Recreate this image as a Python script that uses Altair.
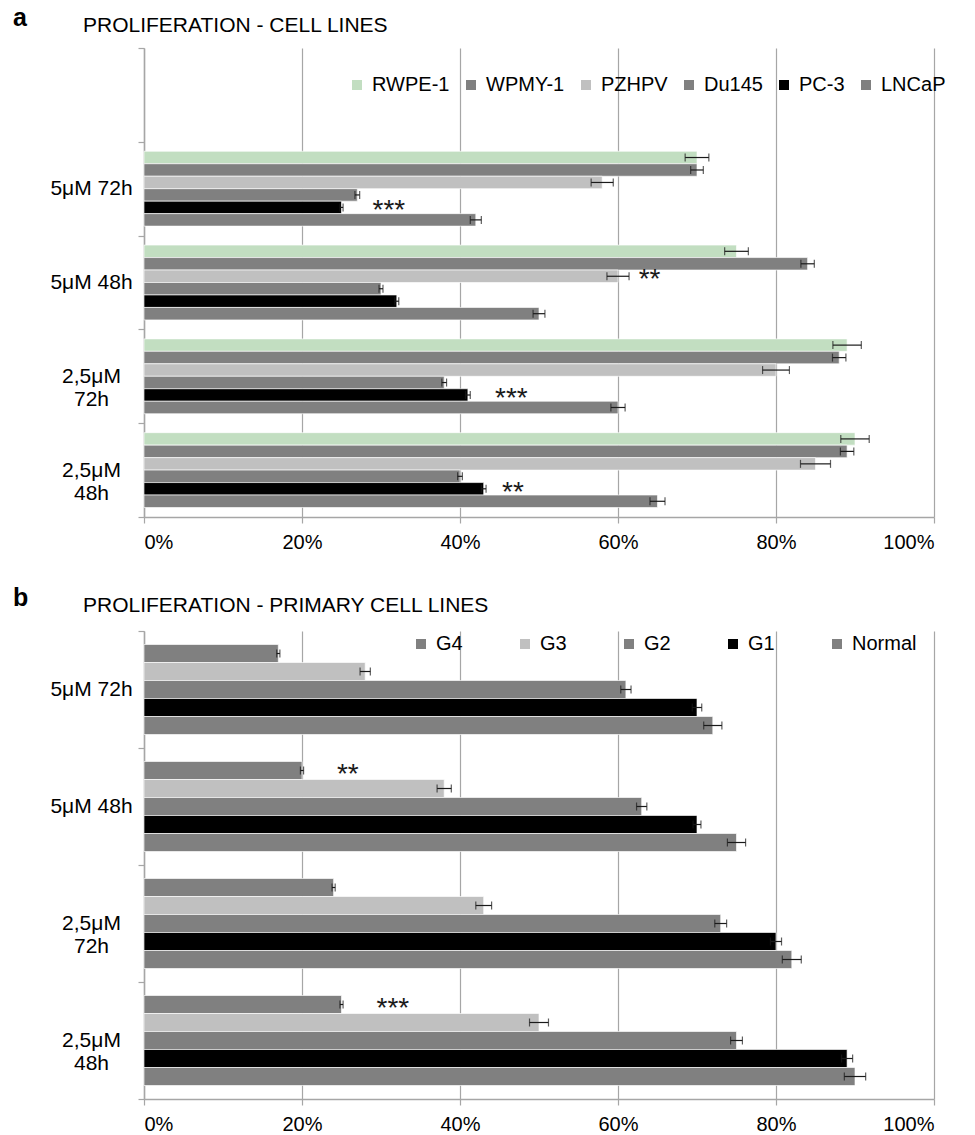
import altair as alt
import pandas as pd

FONT = "Liberation Sans"
AXIS_GREY = "#A6A6A6"
INK = "#1A1A1A"

conditions = ["5μM 72h", "5μM 48h", "2,5μM 72h", "2,5μM 48h"]
legend_row = " "  # empty top band of panel a that holds its legend

# ---- panel a: established cell lines (% proliferation, mean and error) ----
lines_a = ["RWPE-1", "WPMY-1", "PZHPV", "Du145", "PC-3", "LNCaP"]
colors_a = ["#C2DEC1", "#808080", "#C0C0C0", "#808080", "#000000", "#808080"]
rwpe1 = [70, 75, 89, 90]
rwpe1_err = [1.5, 1.5, 1.8, 1.8]
wpmy1 = [70, 84, 88, 89]
wpmy1_err = [0.8, 0.85, 0.85, 0.85]
pzhpv = [58, 60, 80, 85]
pzhpv_err = [1.4, 1.4, 1.7, 1.9]
du145 = [27, 30, 38, 40]
du145_err = [0.3, 0.25, 0.3, 0.3]
pc3 = [25, 32, 41, 43]
pc3_err = [0.2, 0.25, 0.3, 0.3]
lncap = [42, 50, 60, 65]
lncap_err = [0.7, 0.75, 0.9, 0.95]

stars_a_condition = ["5μM 72h", "5μM 48h", "2,5μM 72h", "2,5μM 48h"]
stars_a_series = ["PC-3", "PZHPV", "PC-3", "PC-3"]
stars_a_x = [31, 64, 46.5, 46.7]
stars_a_text = ["***", "**", "***", "**"]

# ---- panel b: primary cell lines ----
lines_b = ["G4", "G3", "G2", "G1", "Normal"]
colors_b = ["#808080", "#C0C0C0", "#808080", "#000000", "#808080"]
g4 = [17, 20, 24, 25]
g4_err = [0.2, 0.2, 0.2, 0.2]
g3 = [28, 38, 43, 50]
g3_err = [0.65, 0.9, 1.0, 1.2]
g2 = [61, 63, 73, 75]
g2_err = [0.65, 0.65, 0.75, 0.75]
g1 = [70, 70, 80, 89]
g1_err = [0.6, 0.5, 0.7, 0.7]
normal = [72, 75, 82, 90]
normal_err = [1.15, 1.15, 1.2, 1.35]

stars_b_condition = ["5μM 48h", "2,5μM 48h"]
stars_b_series = ["G4", "G4"]
stars_b_x = [25.8, 31.5]
stars_b_text = ["**", "***"]


def long_table(series, means, errs):
    rows = []
    for name, m, e in zip(series, means, errs):
        for cond, v, d in zip(conditions, m, e):
            rows.append({"condition": cond, "series": name, "value": v,
                         "lo": v - d, "hi": v + d})
    return pd.DataFrame(rows)


def star_table(conds, series, xs, texts):
    return pd.DataFrame({"condition": conds, "series": series, "x": xs, "text": texts})


x_axis = alt.Axis(
    values=[0, 20, 40, 60, 80, 100], labelExpr="datum.value + '%'",
    grid=True, gridColor=AXIS_GREY, gridWidth=1.2,
    domainColor=AXIS_GREY, domainWidth=1.5, tickColor=AXIS_GREY, tickWidth=1.2,
    tickSize=6, labelFontSize=20, labelFont=FONT, labelColor="black", labelPadding=9,
)

y_axis = alt.Axis(
    tickBand="extent", domainColor=AXIS_GREY, domainWidth=1.5, tickColor=AXIS_GREY,
    tickWidth=1.2, tickSize=6, labelFontSize=21, labelFont=FONT, labelColor="black",
    labelExpr="indexof(datum.label, '2,5') == 0 ? split(datum.label, ' ') : datum.label",
    labelLineHeight=23, labelBaseline="middle", labelAlign="center", labelPadding=47,
)


def panel(table, stars, series, colors, y_domain, height, sub_pad, legend, title, letter, letter_y):
    y = alt.Y("condition:N", title=None, axis=y_axis,
              scale=alt.Scale(domain=y_domain, paddingInner=0, paddingOuter=0))
    y_plain = alt.Y("condition:N", title=None)
    y_off = alt.YOffset("series:N",
                        scale=alt.Scale(domain=series, paddingInner=0, paddingOuter=sub_pad))
    base = alt.Chart(table)
    bars = base.mark_bar(stroke="white", strokeWidth=0.8, strokeOpacity=0.8).encode(
        x=alt.X("value:Q", title=None, axis=x_axis, scale=alt.Scale(domain=[0, 100])),
        y=y,
        yOffset=y_off,
        color=alt.Color("series:N", scale=alt.Scale(domain=series, range=colors), legend=legend),
    )
    whisker = base.mark_rule(color=INK, strokeWidth=1.2).encode(
        x=alt.X("lo:Q", title=None), x2="hi:Q", y=y_plain, yOffset=y_off)
    cap_lo = base.mark_tick(color=INK, thickness=1.2, size=8).encode(
        x=alt.X("lo:Q", title=None), y=y_plain, yOffset=y_off)
    cap_hi = base.mark_tick(color=INK, thickness=1.2, size=8).encode(
        x=alt.X("hi:Q", title=None), y=y_plain, yOffset=y_off)
    marks = alt.Chart(stars).mark_text(
        font=FONT, fontSize=28, color=INK, align="center", baseline="alphabetic", dy=12
    ).encode(x=alt.X("x:Q", title=None), y=y_plain, yOffset=y_off, text="text:N")
    tag = alt.Chart(pd.DataFrame({"tag": [letter]})).mark_text(
        font=FONT, fontSize=25, fontWeight="bold", color="black", align="left",
        baseline="alphabetic",
    ).encode(x=alt.value(-131), y=alt.value(letter_y), text="tag:N")
    return alt.layer(bars, whisker, cap_lo, cap_hi, marks, tag).properties(
        width=790, height=height,
        title=alt.TitleParams(title, anchor="start", frame="group", dx=-61, offset=-30,
                              font=FONT, fontSize=21, fontWeight="normal", color="black"),
    )


legend_a = alt.Legend(
    orient="none", legendX=203, legendY=27, direction="horizontal", columns=6, title=None,
    symbolType="square", symbolSize=100, symbolStrokeWidth=0, labelFont=FONT,
    labelFontSize=20, labelColor="black", labelOffset=5, columnPadding=11, padding=0,
)
legend_b = alt.Legend(
    orient="none", legendX=267, legendY=3, direction="horizontal", columns=5, title=None,
    symbolType="square", symbolSize=100, symbolStrokeWidth=0, labelFont=FONT,
    labelFontSize=20, labelColor="black", labelOffset=5, columnPadding=52, padding=0,
)

table_a = long_table(lines_a, [rwpe1, wpmy1, pzhpv, du145, pc3, lncap],
                     [rwpe1_err, wpmy1_err, pzhpv_err, du145_err, pc3_err, lncap_err])
table_b = long_table(lines_b, [g4, g3, g2, g1, normal],
                     [g4_err, g3_err, g2_err, g1_err, normal_err])

panel_a = panel(table_a, star_table(stars_a_condition, stars_a_series, stars_a_x, stars_a_text),
                lines_a, colors_a, [legend_row] + conditions, 469, 0.76, legend_a,
                "PROLIFERATION - CELL LINES", "a", -22)
panel_b = panel(table_b, star_table(stars_b_condition, stars_b_series, stars_b_x, stars_b_text),
                lines_b, colors_b, conditions, 468, 0.75, legend_b,
                "PROLIFERATION - PRIMARY CELL LINES", "b", -25)

chart = alt.vconcat(panel_a, panel_b, spacing=34).resolve_scale(
    x="independent", y="independent", color="independent", yOffset="independent"
).properties(
    padding={"left": 13, "top": 6, "right": 5, "bottom": 5},
    background="white",
).configure_view(stroke=None)

chart.save("out.html", embed_options={"renderer": "svg", "actions": False})
